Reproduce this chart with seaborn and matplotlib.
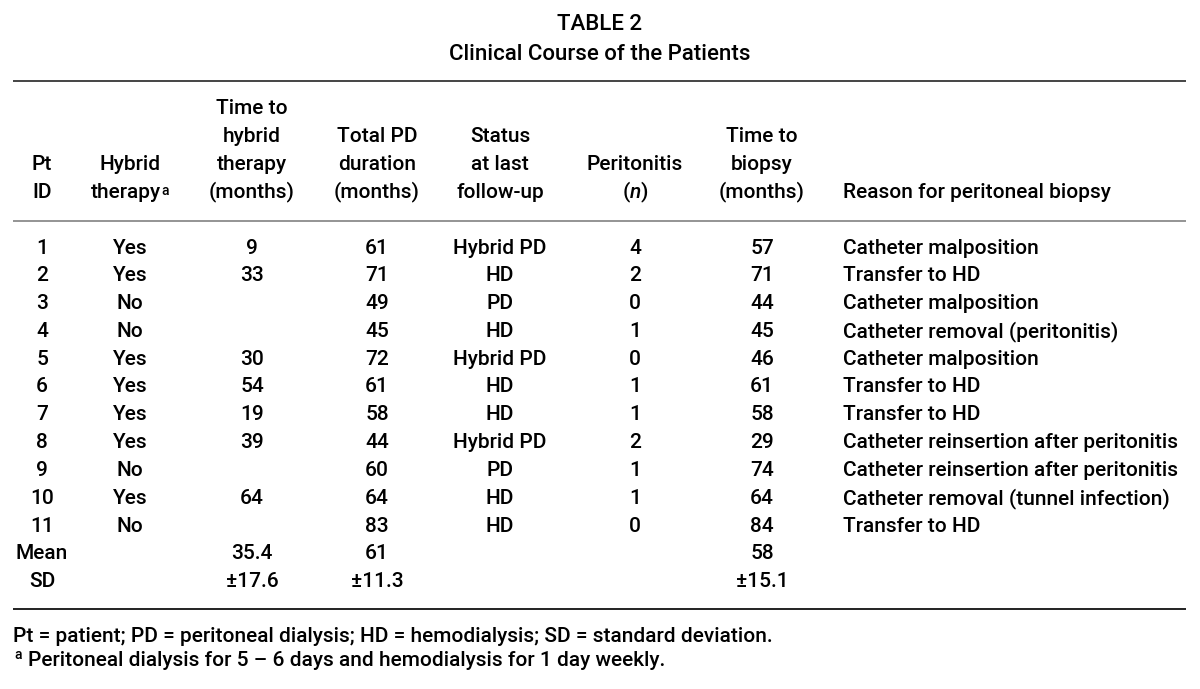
import pandas as pd
import numpy as np
import matplotlib
matplotlib.use("Agg")
import matplotlib.pyplot as plt
import seaborn as sns

# ============================
# data
# ============================
pt_id = ["1", "2", "3", "4", "5", "6", "7", "8", "9", "10", "11"]
hybrid_therapy = ["Yes", "Yes", "No", "No", "Yes", "Yes", "Yes", "Yes", "No", "Yes", "No"]
time_to_hybrid = ["9", "33", "", "", "30", "54", "19", "39", "", "64", ""]
total_pd = ["61", "71", "49", "45", "72", "61", "58", "44", "60", "64", "83"]
status = ["Hybrid PD", "HD", "PD", "HD", "Hybrid PD", "HD", "HD", "Hybrid PD", "PD", "HD", "HD"]
peritonitis = ["4", "2", "0", "1", "0", "1", "1", "2", "1", "1", "0"]
time_to_biopsy = ["57", "71", "44", "45", "46", "61", "58", "29", "74", "64", "84"]
reason = [
    "Catheter malposition",
    "Transfer to HD",
    "Catheter malposition",
    "Catheter removal (peritonitis)",
    "Catheter malposition",
    "Transfer to HD",
    "Transfer to HD",
    "Catheter reinsertion after peritonitis",
    "Catheter reinsertion after peritonitis",
    "Catheter removal (tunnel infection)",
    "Transfer to HD",
]
summary_labels = ["Mean", "SD"]
summary_hybrid = ["35.4", "\u00b117.6"]
summary_total = ["61", "\u00b111.3"]
summary_biopsy = ["58", "\u00b115.1"]

headers = [
    ["Pt", "ID"],
    ["Hybrid", "therapy"],
    ["Time to", "hybrid", "therapy", "(months)"],
    ["Total PD", "duration", "(months)"],
    ["Status", "at last", "follow-up"],
    ["Peritonitis", "($\\mathit{n}$)"],
    ["Time to", "biopsy", "(months)"],
    ["Reason for peritoneal biopsy"],
]
footnotes = [
    "Pt = patient; PD = peritoneal dialysis; HD = hemodialysis; SD = standard deviation.",
    "Peritoneal dialysis for 5 \u2013 6 days and hemodialysis for 1 day weekly.",
]

df = pd.DataFrame({
    "id": pt_id, "hybrid": hybrid_therapy, "t_hybrid": time_to_hybrid,
    "total": total_pd, "status": status, "perit": peritonitis,
    "t_biopsy": time_to_biopsy, "reason": reason,
})

# ============================
# layout (pixels)
# ============================
col_x = [42, 130, 252, 377, 500, 635, 762, 843]
col_ha = ["center"] * 7 + ["left"]
row0, row_h = 248, 27.8
hdr_bottom = 192

sns.set_theme(style="white")
plt.rcParams["font.family"] = ["Roboto", "DejaVu Sans"]
plt.rcParams["font.weight"] = 500
plt.rcParams["mathtext.fontset"] = "custom"
plt.rcParams["mathtext.rm"] = "Roboto"
plt.rcParams["mathtext.it"] = "Roboto:italic"

fig = plt.figure(figsize=(12, 6.89), dpi=100)
ax = fig.add_axes([0, 0, 1, 1])
ax.set_xlim(0, 1200)
ax.set_ylim(689, 0)
ax.axis("off")

fs = 15.0
txt = "#000000"

# title
ax.text(600, 25, "TABLE 2", ha="center", va="center", fontsize=16, color=txt)
ax.text(600, 54, "Clinical Course of the Patients", ha="center", va="center", fontsize=16, color=txt)

# rules
ax.hlines(81, 13, 1186, color="#444444", lw=1.4)
ax.hlines(221, 13, 1186, color="#777777", lw=1.1)
ax.hlines(609, 13, 1186, color="#222222", lw=1.4)

# header
for x, ha, lines in zip(col_x, col_ha, headers):
    n = len(lines)
    for i, line in enumerate(lines):
        y = hdr_bottom - (n - 1 - i) * 28
        if line == "therapy" and x == col_x[1]:
            t = ax.text(x - 4, y, line, ha=ha, va="center", fontsize=fs, color=txt)
            ax.annotate("a", xy=(1, 1), xycoords=t, xytext=(0.5, -1),
                        textcoords="offset points", ha="left", va="top",
                        fontsize=10, color=txt)
        else:
            ax.text(x, y, line, ha=ha, va="center", fontsize=fs, color=txt)

# body
for r, row in enumerate(df.itertuples(index=False)):
    y = row0 + r * row_h
    for x, ha, val in zip(col_x, col_ha, row):
        if val:
            ax.text(x, y, val, ha=ha, va="center", fontsize=fs, color=txt)

# summary rows
for k, lab in enumerate(summary_labels):
    y = row0 + (len(df) + k) * row_h
    ax.text(col_x[0], y, lab, ha="center", va="center", fontsize=fs, color=txt)
    ax.text(col_x[2], y, summary_hybrid[k], ha="center", va="center", fontsize=fs, color=txt)
    ax.text(col_x[3], y, summary_total[k], ha="center", va="center", fontsize=fs, color=txt)
    ax.text(col_x[6], y, summary_biopsy[k], ha="center", va="center", fontsize=fs, color=txt)

# footnotes
ax.text(13, 636, footnotes[0], ha="left", va="center", fontsize=fs, color=txt)
ax.text(14, 655, "a", ha="left", va="center", fontsize=10, color=txt)
ax.text(28, 660, footnotes[1], ha="left", va="center", fontsize=fs, color=txt)

fig.savefig("out.png", dpi=100, facecolor="white")
